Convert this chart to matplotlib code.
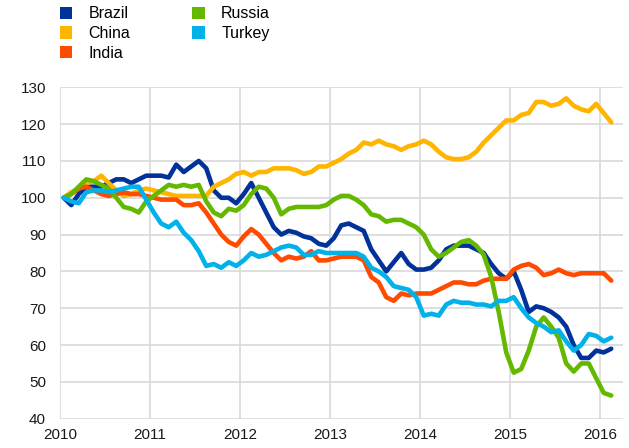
import numpy as np
import matplotlib.pyplot as plt
from matplotlib.patches import Patch

plt.rcParams['font.family'] = ['Liberation Sans', 'DejaVu Sans']

# monthly index values, Jan 2010 - Feb 2016 (100 = Jan 2010)
brazil = [100, 98, 101, 103, 103, 103, 104, 105, 105, 104, 105, 106,
          106, 106, 105.5, 109, 107, 108.5, 110, 108, 102, 100, 100, 98.5,
          101, 104, 100, 96, 92, 90, 91, 90.5, 89.5, 89, 87.5, 87,
          89, 92.5, 93, 92, 91, 86, 83, 80, 82.5, 85, 82, 80.5,
          80.5, 81, 83, 86, 87, 87, 87, 86, 85, 82, 79.5, 78,
          80, 75, 69, 70.5, 70, 69, 67.5, 65, 60, 56.5, 56.5, 58.5,
          58, 59]
china = [100, 101.5, 102.5, 104, 104.5, 106, 104, 102, 100.5, 101, 102, 102.5,
         102, 101.5, 101, 100.5, 100.5, 100.5, 100.5, 100.5, 103, 104, 105, 106.5,
         107, 106, 107, 107, 108, 108, 108, 107.5, 106.5, 107, 108.5, 108.5,
         109.5, 110.5, 112, 113, 115, 114.5, 115.5, 114.5, 114, 113, 114, 114.5,
         115.5, 114.5, 112.5, 111, 110.5, 110.5, 111, 112.5, 115, 117, 119, 121,
         121, 122.5, 123, 126, 126, 125, 125.5, 127, 125, 124, 123.5, 125.5,
         123, 120.5]
india = [100, 101, 102.5, 103, 102, 101, 100.5, 101, 101.5, 101, 101, 100.5,
         100, 99.5, 99.5, 99.5, 98, 98, 98.5, 96, 93, 90, 88, 87,
         89.5, 91.5, 90, 87.5, 85, 83, 84, 83.5, 84, 85.5, 83, 83,
         83.5, 84, 84, 84, 83, 78.5, 77, 73, 72, 74, 73.5, 74,
         74, 74, 75, 76, 77, 77, 76.5, 76.5, 77.5, 78, 78, 78,
         80.5, 81.5, 82, 81, 79, 79.5, 80.5, 79.5, 79, 79.5, 79.5, 79.5,
         79.5, 77.5]
russia = [100, 101, 103, 105, 104.5, 103.5, 102.5, 100, 97.5, 97, 96, 99,
          100.5, 102, 103.5, 103, 103.5, 103, 103.5, 99, 96, 95, 97, 96.5,
          98, 101, 103, 102.5, 100, 95.5, 97, 97.5, 97.5, 97.5, 97.5, 98,
          99.5, 100.5, 100.5, 99.5, 98, 95.5, 95, 93.5, 94, 94, 93, 92,
          90, 86, 84, 85, 86.5, 88, 88.5, 87, 84.5, 78.5, 69, 58,
          52.5, 53.5, 58.5, 65, 67.5, 65, 62, 55, 52.8, 55, 55, 51,
          47, 46.3]
turkey = [100, 99, 98.5, 101.5, 102, 102, 101.5, 102, 102.5, 103, 103, 99.5,
          96, 93, 92, 93.5, 90.5, 88.5, 85.5, 81.5, 82, 81, 82.5, 81.5,
          83, 85, 84, 84.5, 85.5, 86.5, 87, 86.5, 84.5, 84.5, 85.5, 85,
          85, 85, 85, 85, 84, 81, 80, 78.5, 76, 75.5, 75, 73,
          68, 68.5, 68, 71, 72, 71.5, 71.5, 71, 71, 70.5, 72, 72,
          73, 70, 67.5, 66, 65, 63.5, 64, 61, 58.5, 60, 63, 62.5,
          61, 62]

names = ['Brazil', 'China', 'India', 'Russia', 'Turkey']
colors = ['#003299', '#FFB400', '#FF4B00', '#65B800', '#00B1EA']
series = [brazil, china, india, russia, turkey]

# mid-month positions in decimal years
t = 2010 + (np.arange(len(brazil)) + 0.5) / 12

fig = plt.figure(figsize=(6.29, 4.48), dpi=100)
ax = fig.add_axes([60 / 629, 1 - 418.7 / 448, 563 / 629, (418.7 - 87.3) / 448])

# draw order: later series on top
order = [1, 0, 3, 2, 4]
for k in order:
    ax.plot(t, series[k], color=colors[k], lw=3.3, solid_capstyle='round',
            solid_joinstyle='round', zorder=3 + k)

ax.set_xlim(2010, 2016.256)
ax.set_ylim(40, 130)
ax.set_xticks(range(2010, 2017))
ax.set_yticks(range(40, 131, 10))
ax.grid(True, color='#d9d9d9', lw=1.2)
ax.set_axisbelow(True)
for s in ax.spines.values():
    s.set_visible(False)
ax.tick_params(length=0, labelsize=11, colors='#1a1a1a')
ax.tick_params(axis='y', pad=10)
ax.tick_params(axis='x', pad=7)

handles = [Patch(facecolor=c, edgecolor='none') for c in colors]
fig.legend(handles, names, loc='upper left', bbox_to_anchor=(0.072, 1.018),
           ncol=2, frameon=False, fontsize=11.5, handlelength=0.8, handleheight=0.8,
           handletextpad=1.0, columnspacing=3.9, labelspacing=0.3)

fig.savefig('out.png', dpi=100)
